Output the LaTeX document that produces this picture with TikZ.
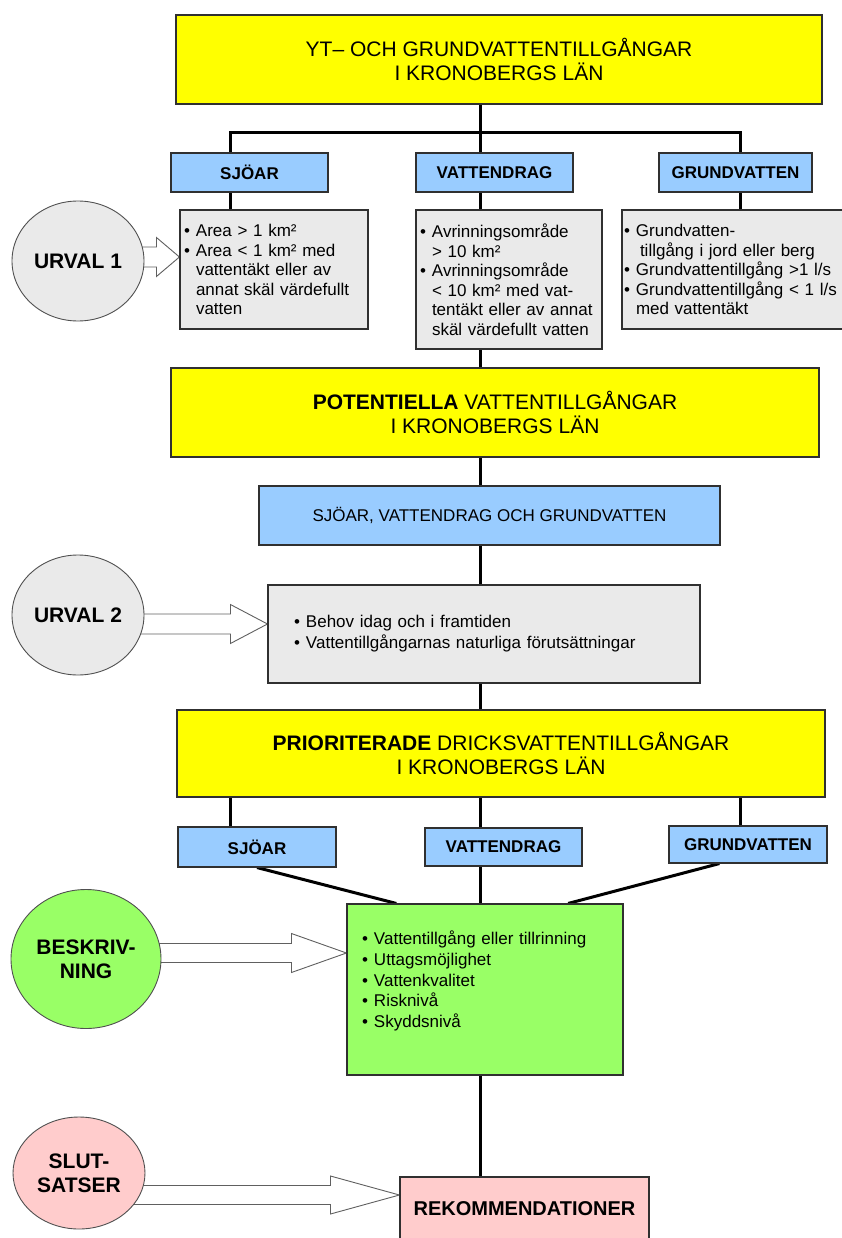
\documentclass[tikz,border=0pt]{standalone}
\usepackage{fontspec}
\setmainfont{Liberation Sans}
\usetikzlibrary{shapes.geometric,calc,backgrounds}

\newcommand{\itm}{\makebox[12pt][l]{•}}
\newcommand{\ind}{\hspace*{12pt}}
% hollow block arrow: from, tip, half shaft, half head, head length
\newcommand{\hollowarrow}[5]{%
  \draw[hollow] let \p1=(#1), \p2=(#2) in
    (\x1,\y2+#3) -- (\x2-#5,\y2+#3) -- (\x2-#5,\y2+#4) -- (\x2,\y2)
    -- (\x2-#5,\y2-#4) -- (\x2-#5,\y2-#3) -- (\x1,\y2-#3);}

\begin{document}
\begin{tikzpicture}[x=1pt, y=-1pt,
    box/.style={draw=boxLine, line width=1.1pt, inner sep=0pt},
    mainbox/.style={box, fill=mainYellow, align=center, font=\fontsize{21}{24}\selectfont},
    typebox/.style={box, fill=typeBlue, font=\bfseries\fontsize{17}{20}\selectfont},
    listbox/.style={box, fill=listGrey, align=left, inner xsep=4pt, font=\fontsize{17}{19.5}\selectfont},
    stage/.style={ellipse, draw=stageLine, line width=0.9pt, inner sep=0pt, align=center, font=\bfseries\fontsize{21}{24}\selectfont},
    link/.style={line width=3pt},
    hollow/.style={draw=arrowLine, line width=0.9pt, fill=white}
]
    \definecolor{boxLine}{HTML}{303030}
    \definecolor{stageLine}{HTML}{505050}
    \definecolor{arrowLine}{HTML}{606060}
    \definecolor{mainYellow}{HTML}{FFFF00}
    \definecolor{typeBlue}{HTML}{99CCFF}
    \definecolor{listGrey}{HTML}{EAEAEA}
    \definecolor{descGreen}{HTML}{99FF66}
    \definecolor{endPink}{HTML}{FFCCCC}

    \useasboundingbox (0,0) rectangle (841,1238);

    % Columns of the connectors
    \coordinate (colA) at (230,0);
    \coordinate (colB) at (480,0);
    \coordinate (colC) at (740,0);
    \coordinate (forkY) at (0,133);

    % Top level
    \node[mainbox, minimum width=646pt, minimum height=89pt] (yt) at (499,59.5)
        {YT– OCH GRUNDVATTENTILLGÅNGAR\\I KRONOBERGS LÄN};

    \node[typebox, minimum width=157pt, minimum height=39pt] (sj1) at (249.5,172.5) {SJÖAR};
    \node[typebox, minimum width=157pt, minimum height=39pt] (vd1) at (494.5,172.5) {VATTENDRAG};
    \node[typebox, minimum width=153pt, minimum height=39pt] (gv1) at (735.5,172.5) {GRUNDVATTEN};

    \node[listbox, text width=180pt, minimum height=119pt] (cr1) at (274,269.5)
        {\itm Area > 1 km²\\
         \itm Area < 1 km² med\\
         \ind vattentäkt eller av\\
         \ind annat skäl värdefullt\\
         \ind vatten};
    \node[listbox, text width=178pt, minimum height=139pt] (cr2) at (509,279.5)
        {\itm Avrinningsområde\\
         \ind > 10 km²\\
         \itm Avrinningsområde\\
         \ind < 10 km² med vat-\\
         \ind tentäkt eller av annat\\
         \ind skäl värdefullt vatten};
    \node[listbox, inner xsep=2pt, text width=236pt, minimum height=119pt] (cr3) at (742,269.5)
        {\itm Grundvatten-\\
         \ind\hspace{4pt}tillgång i jord eller berg\\
         \itm Grundvattentillgång >1 l/s\\
         \itm Grundvattentillgång < 1 l/s\\
         \ind med vattentäkt};

    \node[stage, fill=listGrey, minimum width=132pt, minimum height=120pt] (u1) at (78,261) {URVAL 1};

    % Potential resources
    \node[mainbox, minimum width=648pt, minimum height=89pt] (pt) at (495,412.5)
        {\textbf{POTENTIELLA} VATTENTILLGÅNGAR\\I KRONOBERGS LÄN};
    \node[box, fill=typeBlue, font=\fontsize{17}{20}\selectfont, minimum width=461pt, minimum height=59pt] (alla) at (489.5,515.5)
        {SJÖAR, VATTENDRAG OCH GRUNDVATTEN};
    \node[listbox, inner xsep=26pt, text width=380pt, minimum height=98pt, font=\fontsize{17}{21}\selectfont] (u2box) at (484,634)
        {\itm Behov idag och i framtiden\\
         \itm Vattentillgångarnas naturliga förutsättningar};
    \node[stage, fill=listGrey, minimum width=132pt, minimum height=120pt] (u2) at (78,615) {URVAL 2};

    % Prioritised resources
    \node[mainbox, minimum width=648pt, minimum height=87pt] (pd) at (501,753.5)
        {\textbf{PRIORITERADE} DRICKSVATTENTILLGÅNGAR\\I KRONOBERGS LÄN};
    \node[typebox, minimum width=158pt, minimum height=40pt] (sj2) at (257,847) {SJÖAR};
    \node[typebox, minimum width=157pt, minimum height=38pt] (vd2) at (503.5,847) {VATTENDRAG};
    \node[typebox, minimum width=158pt, minimum height=37pt] (gv2) at (748,844.5) {GRUNDVATTEN};

    \node[box, fill=descGreen, align=left, inner xsep=15pt, text width=246pt, minimum height=171pt,
          font=\fontsize{17}{20.7}\selectfont] (green) at (485,989.5)
        {\itm Vattentillgång eller tillrinning\\
         \itm Uttagsmöjlighet\\
         \itm Vattenkvalitet\\
         \itm Risknivå\\
         \itm Skyddsnivå\\
         \mbox{}};
    \node[stage, fill=descGreen, minimum width=150pt, minimum height=139pt] (bes) at (86,959) {BESKRIV-\\NING};

    % Recommendations
    \node[box, fill=endPink, font=\bfseries\fontsize{20}{24}\selectfont, minimum width=249pt, minimum height=64pt] (rek) at (524.5,1209)
        {REKOMMENDATIONER};
    \node[stage, fill=endPink, minimum width=132pt, minimum height=112pt] (slut) at (79,1173) {SLUT-\\SATSER};

    % Arrow tips
    \coordinate (tip1) at ($(cr1.west)+(0,-12.5)$);
    \coordinate (tip2) at ($(u2box.west)+(0,-10)$);
    \coordinate (tip3) at ($(green.west)+(0,-36.5)$);
    \coordinate (tip4) at ($(rek.west)+(0,-14)$);

    \begin{scope}[on background layer]
        % Draw connectors
        \draw[link] (yt.south -| colB) -- (vd1.north -| colB);
        \draw[link] (sj1.north -| colA) -- (colA |- forkY) -- (colC |- forkY) -- (gv1.north -| colC);
        \draw[link] (sj1.south -| colA) -- (cr1.north -| colA);
        \draw[link] (vd1.south -| colB) -- (cr2.north -| colB);
        \draw[link] (gv1.south -| colC) -- (cr3.north -| colC);
        \draw[link] (cr2.south -| colB) -- (pt.north -| colB);
        \draw[link] (pt.south -| colB) -- (alla.north -| colB);
        \draw[link] (alla.south -| colB) -- (u2box.north -| colB);
        \draw[link] (u2box.south -| colB) -- (pd.north -| colB);
        \draw[link] (pd.south -| colA) -- (sj2.north -| colA);
        \draw[link] (pd.south -| colB) -- (vd2.north -| colB);
        \draw[link] (pd.south -| colC) -- (gv2.north -| colC);
        \draw[link] (sj2.south) -- ($(green.north west)!0.18!(green.north east)$);
        \draw[link] (vd2.south -| colB) -- (green.north -| colB);
        \draw[link] ($(gv2.south west)!0.32!(gv2.south east)$) -- ($(green.north west)!0.8!(green.north east)$);
        \draw[link] (green.south -| colB) -- (rek.north -| colB);

        % Draw block arrows
        \hollowarrow{u1}{tip1}{10pt}{19.5pt}{23pt}
        \hollowarrow{u2}{tip2}{10pt}{19.5pt}{37pt}
        \hollowarrow{bes}{tip3}{9.5pt}{19.5pt}{55pt}
        \hollowarrow{slut}{tip4}{9.5pt}{19pt}{69pt}
    \end{scope}

\end{tikzpicture}
\end{document}
